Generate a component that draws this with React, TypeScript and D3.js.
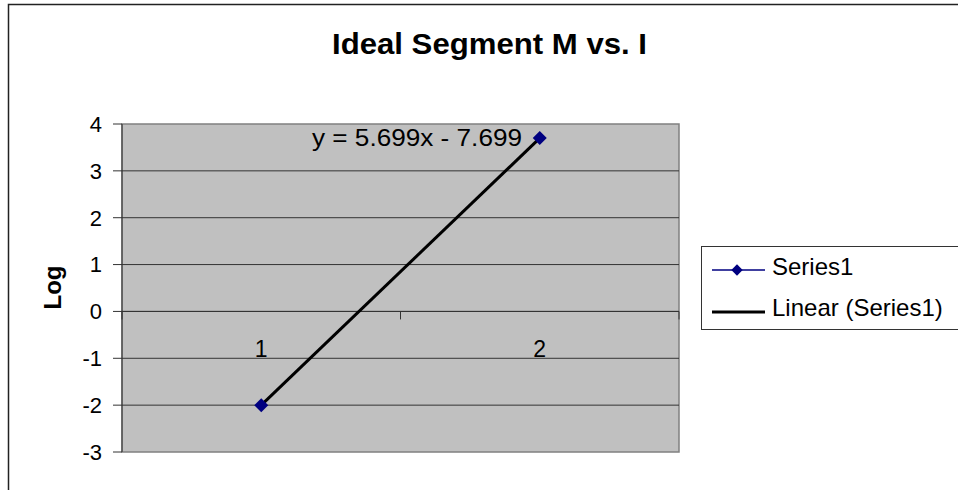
import React from 'react';
import { scaleLinear, scaleBand, line, symbol, symbolSquare } from 'd3';

// chart data
const categories = ['1', '2'];
const seriesValues = [-2, 3.699];
const yTicks = [4, 3, 2, 1, 0, -1, -2, -3];
const trendSlope = 5.699;
const trendIntercept = -7.699;

const width = 958;
const height = 490;
const plotLeft = 122;
const plotRight = 679;
const plotTop = 124;
const plotBottom = 452;
const font = '"Liberation Sans", Arial, sans-serif';

const App = () => {
    const x = scaleBand().domain(categories).range([plotLeft, plotRight]);
    const y = scaleLinear().domain([-3, 4]).range([plotBottom, plotTop]);
    const cx = (c: string) => (x(c) as number) + x.bandwidth() / 2;

    const pts: [number, number][] = categories.map((c, i) => [cx(c), y(seriesValues[i])]);
    const trendPts: [number, number][] = categories.map((c, i) => [cx(c), y(trendSlope * (i + 1) + trendIntercept)]);
    // excel style diamond: a square turned 45 degrees
    const diamond = symbol().type(symbolSquare).size(98)() as string;
    const legendDiamond = symbol().type(symbolSquare).size(64)() as string;

    // category axis sits at y = 0, ticks between categories
    const catTicks = [plotLeft, ...categories.map(c => (x(c) as number) + x.bandwidth())];

    return (
        <svg width={width} height={height} style={{ position: 'absolute', left: 0, top: 0 }}>
            <rect x={0} y={0} width={width} height={height} fill="#fff" />
            <rect x={8.5} y={4.5} width={width + 20} height={height + 20} fill="#fff" stroke="#222" strokeWidth={1.5} />
            <text x={489.5} y={54} textAnchor="middle" fontFamily={font} fontWeight="bold" fontSize={30}
                textLength={315} lengthAdjust="spacingAndGlyphs">Ideal Segment M vs. I</text>

            <rect x={plotLeft} y={plotTop} width={plotRight - plotLeft} height={plotBottom - plotTop} fill="#c0c0c0" stroke="#808080" strokeWidth={1.5} />
            {yTicks.filter(t => t !== -3 && t !== 4).map(t => (
                <line key={t} x1={plotLeft} x2={plotRight} y1={y(t)} y2={y(t)} stroke="#333" strokeWidth={1} />
            ))}
            {/* value axis */}
            <line x1={plotLeft} x2={plotLeft} y1={plotTop} y2={plotBottom} stroke="#333" strokeWidth={1} />
            {yTicks.map(t => (
                <g key={t}>
                    <line x1={plotLeft - 9} x2={plotLeft} y1={y(t)} y2={y(t)} stroke="#333" strokeWidth={1} />
                    <text x={102} y={y(t)} dy="0.36em" textAnchor="end" fontFamily={font} fontSize={22}>{t}</text>
                </g>
            ))}
            {/* category axis at zero */}
            <line x1={plotLeft} x2={plotRight} y1={y(0)} y2={y(0)} stroke="#333" strokeWidth={1} />
            {catTicks.map((t, i) => (
                <line key={i} x1={t} x2={t} y1={y(0)} y2={y(0) + 8} stroke="#333" strokeWidth={1} />
            ))}
            {categories.map(c => (
                <text key={c} x={cx(c)} y={357} textAnchor="middle" fontFamily={font} fontSize={23}>{c}</text>
            ))}

            <text transform={`translate(61, 287.5) rotate(-90)`} textAnchor="middle" fontFamily={font} fontWeight="bold" fontSize={24}>Log</text>

            <path d={line()(pts) as string} fill="none" stroke="#000080" strokeWidth={1} />
            <path d={line()(trendPts) as string} fill="none" stroke="#000" strokeWidth={3} />
            {pts.map((p, i) => (
                <path key={i} d={diamond} transform={`translate(${p[0]},${p[1]}) rotate(45)`} fill="#000080" />
            ))}
            <text x={312} y={146} fontFamily={font} fontSize={23} textLength={210} lengthAdjust="spacingAndGlyphs">y = 5.699x - 7.699</text>

            {/* legend */}
            <rect x={701.5} y={246.5} width={300} height={83} fill="#fff" stroke="#333" strokeWidth={1} />
            <line x1={712} x2={765} y1={270} y2={270} stroke="#000080" strokeWidth={1.5} />
            <path d={legendDiamond} transform="translate(737,270) rotate(45)" fill="#000080" />
            <text x={772} y={275} fontFamily={font} fontSize={24}>Series1</text>
            <line x1={712} x2={765} y1={312} y2={312} stroke="#000" strokeWidth={3} />
            <text x={772} y={316} fontFamily={font} fontSize={24}>Linear (Series1)</text>
        </svg>
    );
};

export default App;
